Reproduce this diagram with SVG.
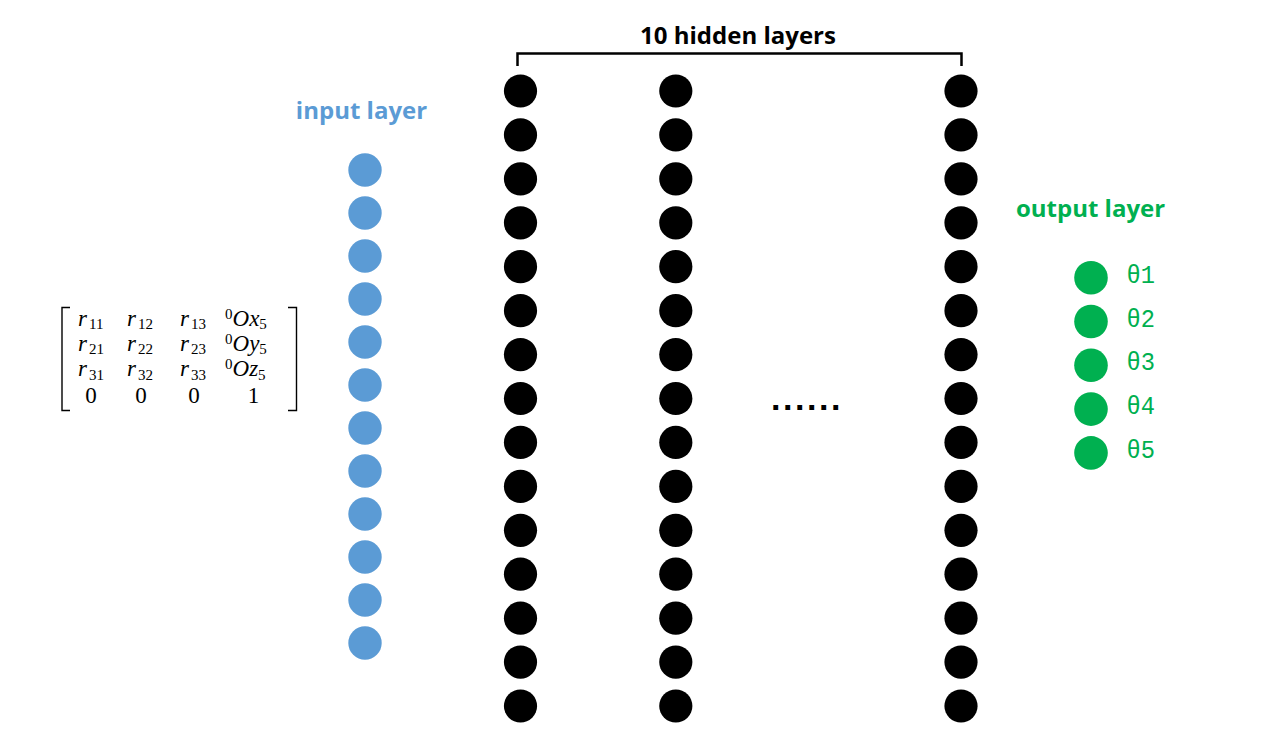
<svg xmlns="http://www.w3.org/2000/svg" width="1272" height="753" viewBox="0 0 1272 753">
<style>
.lbl{font-family:"Open Sans","Liberation Sans",sans-serif;font-weight:700;font-size:24px;text-anchor:middle}
.in{fill:#5B9BD5}
.hid{fill:#000}
.out{fill:#00B050}
.th{font-family:"Liberation Mono","DejaVu Sans Mono",monospace;font-size:26px;fill:#00B050}
.m{font-family:"Liberation Serif","DejaVu Serif",serif;font-size:23px;fill:#000}
.mi{font-style:italic}
.s{font-size:15px}
.br{fill:none;stroke:#000;stroke-width:1.4}
</style>
<rect width="1272" height="753" fill="#fff"/>

<g id="matrix">
<path class="br" d="M70 307.5 H62 V410.5 H70"/>
<path class="br" d="M288 307.5 H296.5 V410.5 H288"/>
<text class="m" x="78" y="325.5"><tspan class="mi">r</tspan><tspan class="s" dx="2" dy="3.5">11</tspan></text>
<text class="m" x="127" y="325.5"><tspan class="mi">r</tspan><tspan class="s" dx="2" dy="3.5">12</tspan></text>
<text class="m" x="180" y="325.5"><tspan class="mi">r</tspan><tspan class="s" dx="2" dy="3.5">13</tspan></text>
<text class="m" x="225" y="325.5"><tspan class="s" dy="-7">0</tspan><tspan class="mi" dy="7">O</tspan><tspan class="mi">x</tspan><tspan class="s" dy="3.5">5</tspan></text>
<text class="m" x="78" y="350.5"><tspan class="mi">r</tspan><tspan class="s" dx="2" dy="3.5">21</tspan></text>
<text class="m" x="127" y="350.5"><tspan class="mi">r</tspan><tspan class="s" dx="2" dy="3.5">22</tspan></text>
<text class="m" x="180" y="350.5"><tspan class="mi">r</tspan><tspan class="s" dx="2" dy="3.5">23</tspan></text>
<text class="m" x="225" y="350.5"><tspan class="s" dy="-7">0</tspan><tspan class="mi" dy="7">O</tspan><tspan class="mi">y</tspan><tspan class="s" dy="3.5">5</tspan></text>
<text class="m" x="78" y="376"><tspan class="mi">r</tspan><tspan class="s" dx="2" dy="3.5">31</tspan></text>
<text class="m" x="127" y="376"><tspan class="mi">r</tspan><tspan class="s" dx="2" dy="3.5">32</tspan></text>
<text class="m" x="180" y="376"><tspan class="mi">r</tspan><tspan class="s" dx="2" dy="3.5">33</tspan></text>
<text class="m" x="225" y="376"><tspan class="s" dy="-7">0</tspan><tspan class="mi" dy="7">O</tspan><tspan class="mi">z</tspan><tspan class="s" dy="3.5">5</tspan></text>
<text class="m" x="91" y="403" text-anchor="middle">0</text>
<text class="m" x="141" y="403" text-anchor="middle">0</text>
<text class="m" x="194" y="403" text-anchor="middle">0</text>
<text class="m" x="253.5" y="403" text-anchor="middle">1</text>
</g>

<g id="labels">
<text class="lbl" x="361.5" y="119" fill="#5B9BD5">input layer</text>
<text class="lbl" x="738" y="44" fill="#000">10 hidden layers</text>
<text class="lbl" x="1090.5" y="217" fill="#00B050">output layer</text>
</g>

<g id="bracket"><path d="M517.5 66 V53.5 H961.5 V66" fill="none" stroke="#000" stroke-width="2.5"/></g>

<g id="connectors"></g>

<g id="input-layer">
<circle id="in1" class="in" cx="365" cy="170" r="16.7"/>
<circle id="in2" class="in" cx="365" cy="213" r="16.7"/>
<circle id="in3" class="in" cx="365" cy="256" r="16.7"/>
<circle id="in4" class="in" cx="365" cy="299" r="16.7"/>
<circle id="in5" class="in" cx="365" cy="342" r="16.7"/>
<circle id="in6" class="in" cx="365" cy="385" r="16.7"/>
<circle id="in7" class="in" cx="365" cy="428" r="16.7"/>
<circle id="in8" class="in" cx="365" cy="471" r="16.7"/>
<circle id="in9" class="in" cx="365" cy="514" r="16.7"/>
<circle id="in10" class="in" cx="365" cy="557" r="16.7"/>
<circle id="in11" class="in" cx="365" cy="600" r="16.7"/>
<circle id="in12" class="in" cx="365" cy="643" r="16.7"/>
</g>

<g id="hidden-layer-1">
<circle class="hid" cx="520.5" cy="91" r="16.6"/>
<circle class="hid" cx="520.5" cy="134.9" r="16.6"/>
<circle class="hid" cx="520.5" cy="178.9" r="16.6"/>
<circle class="hid" cx="520.5" cy="222.8" r="16.6"/>
<circle class="hid" cx="520.5" cy="266.7" r="16.6"/>
<circle class="hid" cx="520.5" cy="310.7" r="16.6"/>
<circle class="hid" cx="520.5" cy="354.6" r="16.6"/>
<circle class="hid" cx="520.5" cy="398.5" r="16.6"/>
<circle class="hid" cx="520.5" cy="442.4" r="16.6"/>
<circle class="hid" cx="520.5" cy="486.4" r="16.6"/>
<circle class="hid" cx="520.5" cy="530.3" r="16.6"/>
<circle class="hid" cx="520.5" cy="574.2" r="16.6"/>
<circle class="hid" cx="520.5" cy="618.2" r="16.6"/>
<circle class="hid" cx="520.5" cy="662.1" r="16.6"/>
<circle class="hid" cx="520.5" cy="706" r="16.6"/>
</g>

<g id="hidden-layer-2">
<circle class="hid" cx="675.8" cy="91" r="16.6"/>
<circle class="hid" cx="675.8" cy="134.9" r="16.6"/>
<circle class="hid" cx="675.8" cy="178.9" r="16.6"/>
<circle class="hid" cx="675.8" cy="222.8" r="16.6"/>
<circle class="hid" cx="675.8" cy="266.7" r="16.6"/>
<circle class="hid" cx="675.8" cy="310.7" r="16.6"/>
<circle class="hid" cx="675.8" cy="354.6" r="16.6"/>
<circle class="hid" cx="675.8" cy="398.5" r="16.6"/>
<circle class="hid" cx="675.8" cy="442.4" r="16.6"/>
<circle class="hid" cx="675.8" cy="486.4" r="16.6"/>
<circle class="hid" cx="675.8" cy="530.3" r="16.6"/>
<circle class="hid" cx="675.8" cy="574.2" r="16.6"/>
<circle class="hid" cx="675.8" cy="618.2" r="16.6"/>
<circle class="hid" cx="675.8" cy="662.1" r="16.6"/>
<circle class="hid" cx="675.8" cy="706" r="16.6"/>
</g>

<g id="ellipsis"><text x="771" y="410" font-family="Liberation Sans,Arial,sans-serif" font-weight="700" font-size="34" letter-spacing="2.55" fill="#000">......</text></g>

<g id="hidden-layer-10">
<circle class="hid" cx="961" cy="91" r="16.6"/>
<circle class="hid" cx="961" cy="134.9" r="16.6"/>
<circle class="hid" cx="961" cy="178.9" r="16.6"/>
<circle class="hid" cx="961" cy="222.8" r="16.6"/>
<circle class="hid" cx="961" cy="266.7" r="16.6"/>
<circle class="hid" cx="961" cy="310.7" r="16.6"/>
<circle class="hid" cx="961" cy="354.6" r="16.6"/>
<circle class="hid" cx="961" cy="398.5" r="16.6"/>
<circle class="hid" cx="961" cy="442.4" r="16.6"/>
<circle class="hid" cx="961" cy="486.4" r="16.6"/>
<circle class="hid" cx="961" cy="530.3" r="16.6"/>
<circle class="hid" cx="961" cy="574.2" r="16.6"/>
<circle class="hid" cx="961" cy="618.2" r="16.6"/>
<circle class="hid" cx="961" cy="662.1" r="16.6"/>
<circle class="hid" cx="961" cy="706" r="16.6"/>
</g>

<g id="output-layer">
<g id="out1"><circle class="out" cx="1091" cy="277.7" r="16.8"/><text class="th" x="1126.5" y="282.7" textLength="28.5" lengthAdjust="spacingAndGlyphs">θ1</text></g>
<g id="out2"><circle class="out" cx="1091" cy="321.5" r="16.8"/><text class="th" x="1126.5" y="326.5" textLength="28.5" lengthAdjust="spacingAndGlyphs">θ2</text></g>
<g id="out3"><circle class="out" cx="1091" cy="365.3" r="16.8"/><text class="th" x="1126.5" y="370.3" textLength="28.5" lengthAdjust="spacingAndGlyphs">θ3</text></g>
<g id="out4"><circle class="out" cx="1091" cy="409.1" r="16.8"/><text class="th" x="1126.5" y="414.1" textLength="28.5" lengthAdjust="spacingAndGlyphs">θ4</text></g>
<g id="out5"><circle class="out" cx="1091" cy="452.9" r="16.8"/><text class="th" x="1126.5" y="457.9" textLength="28.5" lengthAdjust="spacingAndGlyphs">θ5</text></g>
</g>
</svg>
